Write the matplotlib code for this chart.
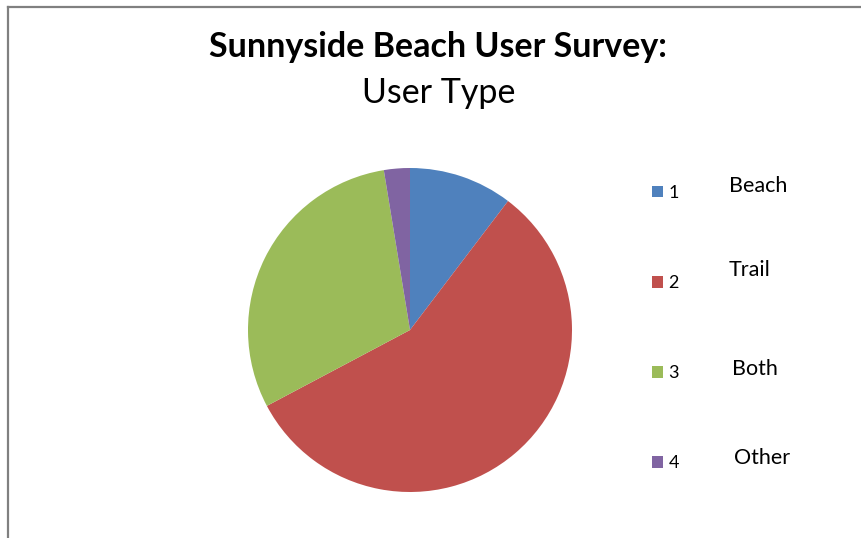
import matplotlib
matplotlib.use('Agg')
import matplotlib.pyplot as plt
from matplotlib.lines import Line2D

plt.rcParams['font.family'] = ['Lato', 'DejaVu Sans']

# survey data
codes = ['1', '2', '3', '4']
names = ['Beach', 'Trail', 'Both', 'Other']
counts = [12, 66, 35, 3]
colors = ['#4F81BD', '#C0504D', '#9BBB59', '#8064A2']

W, H = 862, 538
fig = plt.figure(figsize=(W / 100, H / 100), dpi=100)

# pie axes: centre ~(410, 330) px, radius ~162 px
ax = fig.add_axes([(410 - 162) / W, (H - 492) / H, 324 / W, 324 / H])
wedges, _ = ax.pie(counts, colors=colors, startangle=90, counterclock=False,
                   radius=1.0, wedgeprops=dict(linewidth=0))
ax.set_xlim(-1, 1)
ax.set_ylim(-1, 1)
ax.set_aspect('equal')
ax.axis('off')

fig.text(438 / W, 1 - 47 / H, 'Sunnyside Beach User Survey:', ha='center', va='center',
         fontsize=24.5, fontweight='bold')
fig.text(439 / W, 1 - 93 / H, 'User Type', ha='center', va='center', fontsize=24.5)

leg = fig.legend(wedges, codes, loc='upper left', bbox_to_anchor=(652 / W, 1 - 185 / H),
                 frameon=False, fontsize=13, handlelength=0.62, handleheight=0.62,
                 handletextpad=0.3, labelspacing=4.1, borderpad=0, borderaxespad=0)

# category names next to the legend entries
name_pos = [(729, 186), (729, 270), (732, 369), (734, 458)]
for name, (x, y) in zip(names, name_pos):
    fig.text(x / W, 1 - y / H, name, ha='left', va='center', fontsize=15.5)

# frame lines (top and left)
fig.add_artist(Line2D([8 / W, 1], [1 - 6.5 / H, 1 - 6.5 / H], color='#808080', lw=1.6))
fig.add_artist(Line2D([8 / W, 8 / W], [0, 1 - 6.5 / H], color='#808080', lw=1.6))

fig.savefig('out.png', dpi=100)
